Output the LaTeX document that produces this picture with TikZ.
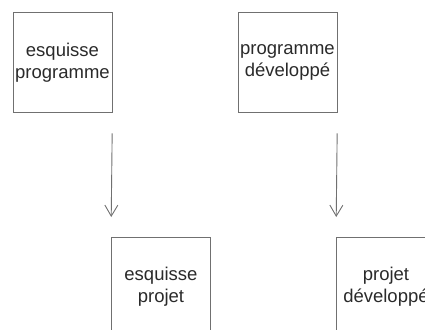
\documentclass[tikz,border=0pt]{standalone}
\usepackage{fontspec}
\setmainfont{Liberation Sans}
\usetikzlibrary{arrows.meta}
\definecolor{linegray}{HTML}{707070}
\definecolor{textgray}{HTML}{2A2A2A}
\tikzset{
  stagebox/.style={draw=linegray, line width=0.9pt, minimum width=99pt, minimum height=99pt,
    inner sep=0pt, anchor=north west, align=center, text=textgray,
    font=\fontsize{18.5pt}{22pt}\selectfont},
  flow/.style={draw=linegray, line width=0.9pt, -{Straight Barb[length=11pt,width=13pt]},
    shorten <=21pt, shorten >=20pt}
}
\begin{document}
\begin{tikzpicture}[x=1pt,y=-1pt]
  \useasboundingbox (0,0) rectangle (425,329);
  \clip (0,0) rectangle (425,329);
  \node[stagebox] (b1) at (12.5,12.5) {esquisse\\programme};
  \node[stagebox] (b2) at (237.5,12.5) {programme\\développé};
  \node[stagebox] (b3) at (111,237) {esquisse\\projet};
  \node[stagebox] (b4) at (336,237) {projet\\développé};
  \draw[flow] (b1.south east) -- (b3.north west);
  \draw[flow] (b2.south east) -- (b4.north west);
\end{tikzpicture}
\end{document}
